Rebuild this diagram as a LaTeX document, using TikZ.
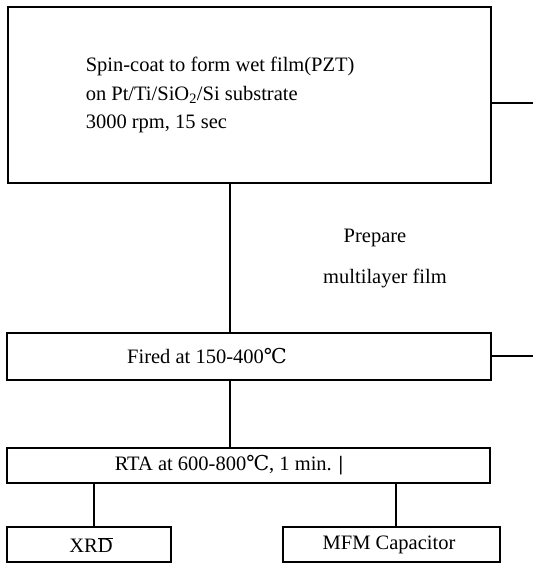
\documentclass[tikz,border=0pt]{standalone}
\usepackage{fontspec}
\setmainfont{Liberation Serif}
\newfontfamily\degfont{DejaVu Serif}
\usetikzlibrary{positioning, calc}
\newcommand{\degC}{{\degfont ℃}}

\begin{document}
\begin{tikzpicture}[x=1pt, y=-1pt, line width=1.5pt,
  every node/.style={font=\fontsize{20.5}{28.5}\selectfont, inner sep=0pt},
  stepbox/.style={draw, rectangle, minimum width=#1}]
\useasboundingbox (0,0) rectangle (533,563);
% process boxes
\node[stepbox=483, minimum height=176] (spin) at (249.5,95) {};
\node[stepbox=484, minimum height=47] (fire) at (249,356.5) {};
\node[stepbox=483, minimum height=35] (rta) at (248.5,465.5) {};
\node[stepbox=164, minimum height=35] (xrd) at (89,544.5) {};
\node[stepbox=217, minimum height=35] (mfm) at (391.5,544.5) {};
% box texts
\node[anchor=west, align=left] (spintxt) at (85,95)
  {Spin-coat to form wet film(PZT)\\on Pt/Ti/SiO\textsubscript{2}/Si substrate\\3000 rpm, 15 sec};
\node (firetxt) at (207,356) {Fired at 150-400\degC};
\node (rtatxt) at (229,465) {RTA at 600-800\degC, 1 min. \textbf{|}};
\node (xrdtxt) at (91,545) {XR$\overline{\mbox{D}}$};
\node (mfmtxt) at (389,545) {MFM Capacitor};
% side note between first two steps
\node (prep) at (375,238) {Prepare};
\node (multi) at (385,278) {multilayer film};
% connectors
\coordinate (trunk) at (230,0);
\coordinate (legL) at (94,0);
\coordinate (legR) at (396,0);
\coordinate (outA) at (533,103);
\coordinate (outB) at (533,356);
\draw (spin.south -| trunk) -- (fire.north -| trunk);
\draw (fire.south -| trunk) -- (rta.north -| trunk);
\draw (rta.south -| legL) -- (xrd.north -| legL);
\draw (rta.south -| legR) -- (mfm.north -| legR);
\draw (spin.east |- outA) -- (outA);
\draw (fire.east |- outB) -- (outB);
\end{tikzpicture}
\end{document}
